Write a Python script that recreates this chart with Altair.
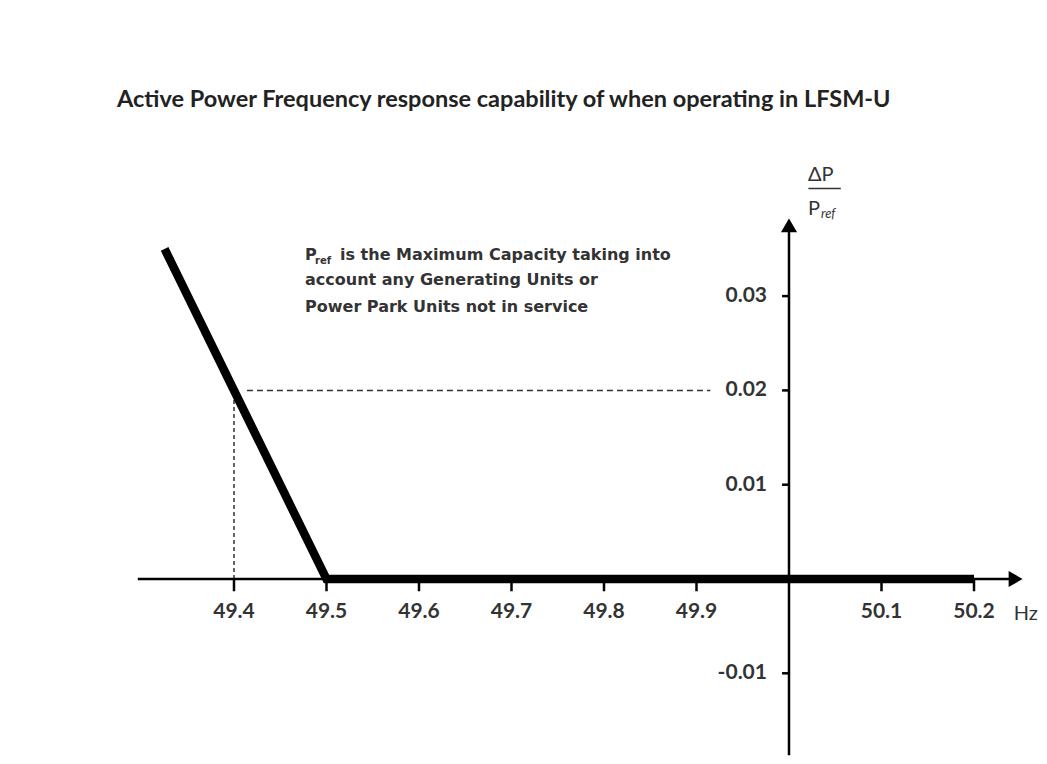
import altair as alt
import pandas as pd

# ---------------- data ----------------
x_tick_values = [49.4, 49.5, 49.6, 49.7, 49.8, 49.9, 50.1, 50.2]
x_tick_labels = ["49.4", "49.5", "49.6", "49.7", "49.8", "49.9", "50.1", "50.2"]
y_tick_values = [0.03, 0.02, 0.01, -0.01]
y_tick_labels = ["0.03", "0.02", "0.01", "-0.01"]

curve_freq = [49.325, 49.5, 50.2]
curve_dp = [0.035, 0.0, 0.0]

ref_freq = 49.4
ref_dp = 0.02
ref_dash_start = 49.414
ref_dash_end = 49.915

origin_freq = 50.0
axis_x_range = [49.296, 50.245]
axis_y_range = [-0.0187, 0.0375]

x_domain = [49.15568, 50.27027]
y_domain = [-0.019194, 0.046553]

tick_len_y = 0.0013   # x-axis tick length (data units of y)
tick_len_x = 0.0075   # y-axis tick length (data units of x)

note_lines = ["is the Maximum Capacity taking into",
              "account  any Generating Units or",
              "Power Park Units not in service"]
note_freq = 49.4768
note_dp = [0.03436, 0.03171, 0.02884]

title_text = "Active Power  Frequency response capability of when operating in LFSM-U"

# ---------------- helpers ----------------
XS = alt.Scale(domain=x_domain, nice=False, zero=False)
YS = alt.Scale(domain=y_domain, nice=False, zero=False)


def X(field):
    return alt.X(f"{field}:Q", scale=XS, axis=None)


def Y(field):
    return alt.Y(f"{field}:Q", scale=YS, axis=None)


INK = "#000000"
TXT = "#333333"
FONT = "Lato"
NOTE_FONT = "DejaVu Sans"
NOTE_SIZE = 16

# axes lines
xaxis_df = pd.DataFrame({"f": [axis_x_range[0]], "f2": [axis_x_range[1]], "p": [0.0]})
xaxis = alt.Chart(xaxis_df).mark_rule(color=INK, strokeWidth=2.5).encode(
    x=X("f"), x2="f2", y=Y("p"))

yaxis_df = pd.DataFrame({"f": [origin_freq], "p": [axis_y_range[0]], "p2": [axis_y_range[1]]})
yaxis = alt.Chart(yaxis_df).mark_rule(color=INK, strokeWidth=2.5).encode(
    x=X("f"), y=Y("p"), y2="p2")

arrow_r = alt.Chart(pd.DataFrame({"f": [axis_x_range[1]], "p": [0.0]})).mark_point(
    shape="triangle-right", filled=True, color=INK, opacity=1, size=260).encode(
    x=X("f"), y=Y("p"))
arrow_u = alt.Chart(pd.DataFrame({"f": [origin_freq], "p": [axis_y_range[1]]})).mark_point(
    shape="triangle-up", filled=True, color=INK, opacity=1, size=260).encode(
    x=X("f"), y=Y("p"))

# ticks
xt_df = pd.DataFrame({"f": x_tick_values, "p": [0.0] * len(x_tick_values),
                      "p2": [-tick_len_y] * len(x_tick_values), "lab": x_tick_labels})
xticks = alt.Chart(xt_df).mark_rule(color=INK, strokeWidth=2.5).encode(
    x=X("f"), y=Y("p"), y2="p2")
xlabels = alt.Chart(xt_df).mark_text(
    font=FONT, fontSize=21, fontWeight="bold", color=TXT, dy=33, baseline="middle").encode(
    x=X("f"), y=Y("p"), text="lab:N")

yt_df = pd.DataFrame({"f": [origin_freq] * len(y_tick_values),
                      "f2": [origin_freq - tick_len_x] * len(y_tick_values),
                      "p": y_tick_values, "lab": y_tick_labels})
yticks = alt.Chart(yt_df).mark_rule(color=INK, strokeWidth=2.5).encode(
    x=X("f"), x2="f2", y=Y("p"))
ylabels = alt.Chart(yt_df).mark_text(
    font=FONT, fontSize=21, fontWeight="bold", color=TXT, dx=-22, align="right",
    baseline="middle").encode(x=X("f"), y=Y("p"), text="lab:N")

# dashed reference lines
vdash = alt.Chart(pd.DataFrame({"f": [ref_freq], "p": [0.0], "p2": [ref_dp]})).mark_rule(
    color="#333333", strokeWidth=1.5, strokeDash=[4, 3]).encode(x=X("f"), y=Y("p"), y2="p2")
hdash = alt.Chart(pd.DataFrame({"f": [ref_dash_start], "f2": [ref_dash_end], "p": [ref_dp]})).mark_rule(
    color="#333333", strokeWidth=1.5, strokeDash=[6, 4]).encode(x=X("f"), x2="f2", y=Y("p"))

# response curve
curve_df = pd.DataFrame({"f": curve_freq, "p": curve_dp, "o": list(range(len(curve_freq)))})
curve = alt.Chart(curve_df).mark_line(
    color=INK, strokeWidth=8.5, strokeJoin="miter", strokeCap="butt").encode(
    x=X("f"), y=Y("p"), order="o:Q")

# annotation
note_df = pd.DataFrame({"f": [note_freq] * 3, "p": note_dp, "t": note_lines})
note_p = alt.Chart(pd.DataFrame({"f": [note_freq], "p": [note_dp[0]], "t": ["P"]})).mark_text(
    font=NOTE_FONT, fontSize=NOTE_SIZE, fontWeight="bold", color=TXT, align="left",
    baseline="middle").encode(x=X("f"), y=Y("p"), text="t:N")
note_ref = alt.Chart(pd.DataFrame({"f": [note_freq], "p": [note_dp[0]], "t": ["ref"]})).mark_text(
    font=NOTE_FONT, fontSize=10, fontWeight="bold", color=TXT, align="left", baseline="middle",
    dx=10, dy=6).encode(x=X("f"), y=Y("p"), text="t:N")
note1 = alt.Chart(note_df.iloc[[0]]).mark_text(
    font=NOTE_FONT, fontSize=NOTE_SIZE, fontWeight="bold", color=TXT, align="left",
    baseline="middle", dx=35).encode(x=X("f"), y=Y("p"), text="t:N")
note23 = alt.Chart(note_df.iloc[1:]).mark_text(
    font=NOTE_FONT, fontSize=NOTE_SIZE, fontWeight="bold", color=TXT, align="left",
    baseline="middle").encode(x=X("f"), y=Y("p"), text="t:N")

# y-axis unit label (ΔP / Pref)
unit_df = pd.DataFrame({"f": [origin_freq], "p": [axis_y_range[1]]})
dp_lab = alt.Chart(unit_df).mark_text(
    font=FONT, fontSize=20, color=TXT, align="left", baseline="middle", dx=19, dy=-50).encode(
    x=X("f"), y=Y("p"), text=alt.value("ΔP"))
frac = alt.Chart(pd.DataFrame({"f": [origin_freq + 0.021], "f2": [origin_freq + 0.056],
                               "p": [axis_y_range[1] + 0.0039]})).mark_rule(
    color=TXT, strokeWidth=1.5).encode(x=X("f"), x2="f2", y=Y("p"))
pref_lab = alt.Chart(unit_df).mark_text(
    font=FONT, fontSize=20, color=TXT, align="left", baseline="middle", dx=19, dy=-16).encode(
    x=X("f"), y=Y("p"), text=alt.value("P"))
pref_sub = alt.Chart(unit_df).mark_text(
    font=FONT, fontSize=13, fontStyle="italic", color=TXT, align="left", baseline="middle",
    dx=32, dy=-11).encode(x=X("f"), y=Y("p"), text=alt.value("ref"))

# Hz label
hz = alt.Chart(pd.DataFrame({"f": [axis_x_range[1]], "p": [0.0]})).mark_text(
    font=FONT, fontSize=20, color=TXT, align="left", baseline="middle", dx=-2, dy=35).encode(
    x=X("f"), y=Y("p"), text=alt.value("Hz"))

chart = alt.layer(
    vdash, hdash, xaxis, yaxis, xticks, yticks, arrow_r, arrow_u, curve,
    xlabels, ylabels, note_p, note_ref, note1, note23, dp_lab, frac, pref_lab, pref_sub, hz
).properties(
    width=1031, height=620,
    padding={"left": 0, "right": 0, "top": 132, "bottom": 0},
    autosize=alt.AutoSizeParams(type="none"),
    title=alt.TitleParams(title_text, anchor="start", font=FONT, fontSize=23.5,
                          fontWeight="bold", color="#222222", dx=109, offset=29),
).configure(
    background="white",
    view=alt.ViewConfig(stroke="transparent", strokeWidth=0),
)

chart.save("out.html", embed_options={"renderer": "svg", "actions": False})
